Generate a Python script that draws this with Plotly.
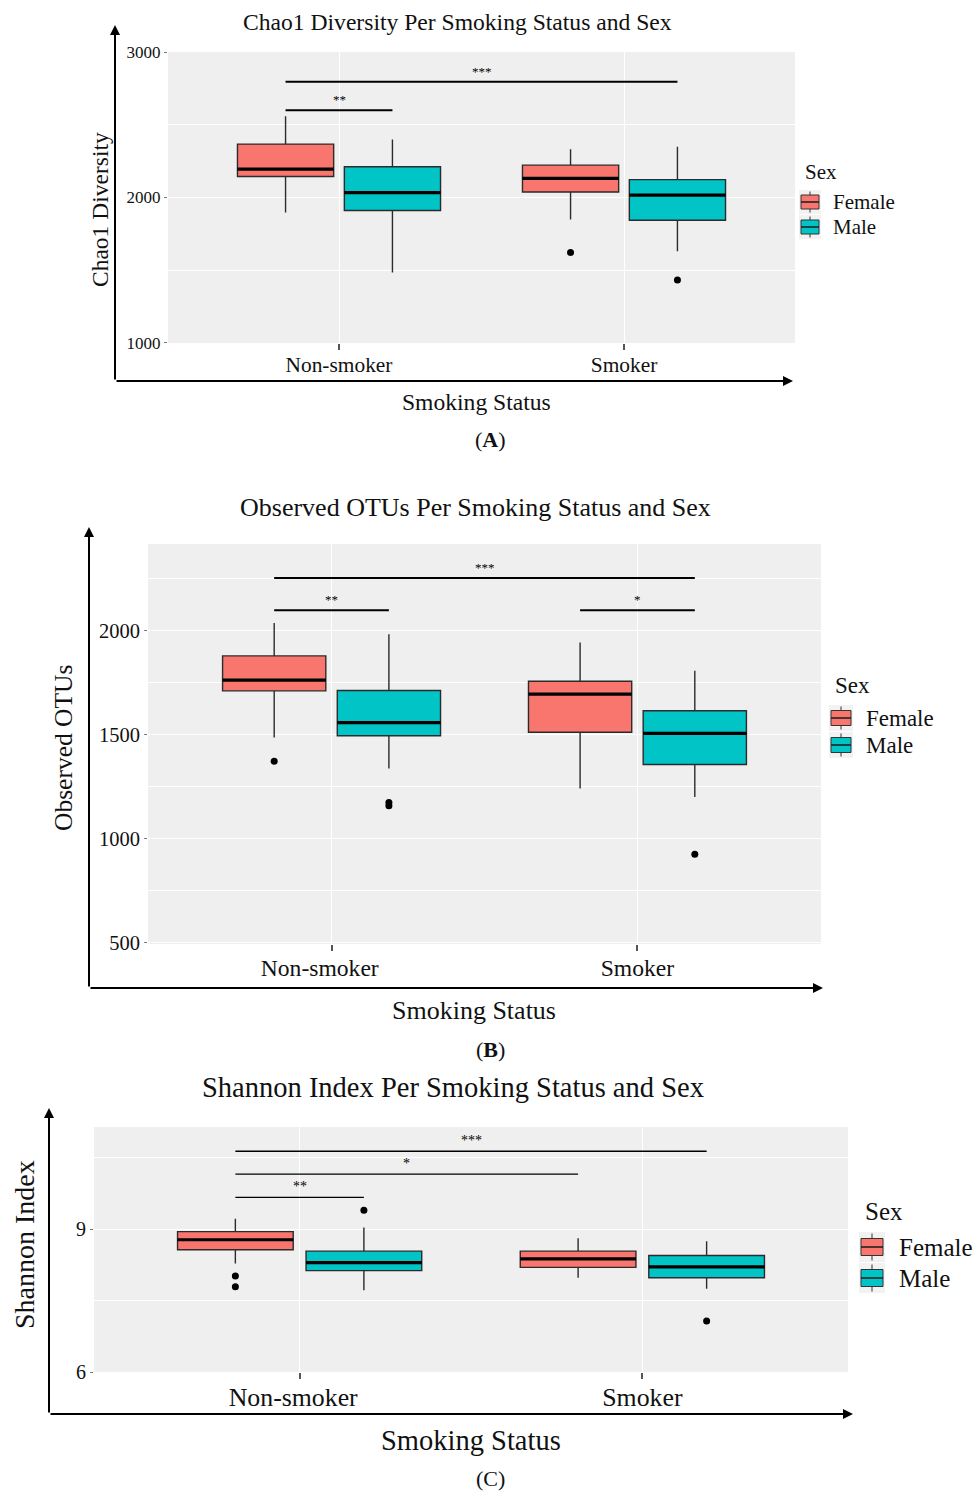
import plotly.graph_objects as go

W, H = 976, 1493
SERIF = "Liberation Serif, Times New Roman, serif"
INK = "#111111"

GROUPS = ["Non-smoker", "Smoker"]
SEXES = ["Female", "Male"]
FILL = {"Female": "#F8766D", "Male": "#00C4C6"}
OFFSET = {"Female": -0.1875, "Male": 0.1875}
BOX_W = 0.3375

# ---- Chao1 diversity: box statistics per sex, ordered [Non-smoker, Smoker]
chao1_lower = {"Female": [1896, 1848], "Male": [1483, 1630]}
chao1_q1 = {"Female": [2145, 2038], "Male": [1910, 1843]}
chao1_median = {"Female": [2196, 2132], "Male": [2033, 2017]}
chao1_q3 = {"Female": [2368, 2223], "Male": [2212, 2123]}
chao1_upper = {"Female": [2560, 2333], "Male": [2400, 2349]}
chao1_out_group = ["Smoker", "Smoker"]
chao1_out_sex = ["Female", "Male"]
chao1_out_value = [1621, 1431]
chao1_sig_from = [("Non-smoker", "Female"), ("Non-smoker", "Female")]
chao1_sig_to = [("Non-smoker", "Male"), ("Smoker", "Male")]
chao1_sig_y = [2601, 2798]
chao1_sig_label = ["**", "***"]

# ---- Observed OTUs
otu_lower = {"Female": [1488, 1243], "Male": [1339, 1202]}
otu_q1 = {"Female": [1712, 1513], "Male": [1496, 1358]}
otu_median = {"Female": [1764, 1696], "Male": [1559, 1508]}
otu_q3 = {"Female": [1880, 1758], "Male": [1714, 1616]}
otu_upper = {"Female": [2038, 1945], "Male": [1984, 1809]}
otu_out_group = ["Non-smoker", "Non-smoker", "Non-smoker", "Smoker"]
otu_out_sex = ["Female", "Male", "Male", "Male"]
otu_out_value = [1374, 1175, 1160, 927]
otu_sig_from = [("Non-smoker", "Female"), ("Smoker", "Female"), ("Non-smoker", "Female")]
otu_sig_to = [("Non-smoker", "Male"), ("Smoker", "Male"), ("Smoker", "Male")]
otu_sig_y = [2100, 2100, 2254]
otu_sig_label = ["**", "*", "***"]

# ---- Shannon index
shannon_lower = {"Female": [8.28, 7.98], "Male": [7.72, 7.75]}
shannon_q1 = {"Female": [8.57, 8.20], "Male": [8.13, 7.98]}
shannon_median = {"Female": [8.78, 8.38], "Male": [8.30, 8.21]}
shannon_q3 = {"Female": [8.95, 8.54], "Male": [8.54, 8.45]}
shannon_upper = {"Female": [9.22, 8.81], "Male": [9.04, 8.75]}
shannon_out_group = ["Non-smoker", "Non-smoker", "Non-smoker", "Smoker"]
shannon_out_sex = ["Female", "Female", "Male", "Male"]
shannon_out_value = [8.02, 7.79, 9.40, 7.07]
shannon_sig_from = [("Non-smoker", "Female"), ("Non-smoker", "Female"), ("Non-smoker", "Female")]
shannon_sig_to = [("Non-smoker", "Male"), ("Smoker", "Female"), ("Smoker", "Male")]
shannon_sig_y = [9.67, 10.16, 10.64]
shannon_sig_label = ["**", "*", "***"]


def fx(px):
    return px / W


def fy(py):
    return 1 - py / H


def pos(group, sex):
    return GROUPS.index(group) + 1 + OFFSET[sex]


PANELS = [
    dict(
        stats=(chao1_lower, chao1_q1, chao1_median, chao1_q3, chao1_upper),
        outliers=(chao1_out_group, chao1_out_sex, chao1_out_value),
        sig=(chao1_sig_from, chao1_sig_to, chao1_sig_y, chao1_sig_label),
        box=(168, 52, 795, 343), yrange=[997, 3003],
        yticks=[1000, 2000, 3000], yminor=[1500, 2500],
        title="Chao1 Diversity Per Smoking Status and Sex", title_xy=(457, 22), title_size=23.6,
        ytitle="Chao1 Diversity", ytitle_xy=(100, 210), ytitle_size=23.5,
        xtitle_xy=(476, 402), xtitle_size=23.6,
        tag="(<b>A</b>)", tag_xy=(491, 439), tag_size=22,
        axis_x=115, axis_top=25, axis_y=381, axis_right=793,
        ytick_size=17, xtick_size=21.4, xtick_pad=0, xtick_standoff=-4,
        star_size=13, sig_w=2,
        key_x=800, key_w=20, key_h=14, key_text_x=831, key_title_xy=(803, 172),
        key_rows=[202, 227], key_size=21,
    ),
    dict(
        stats=(otu_lower, otu_q1, otu_median, otu_q3, otu_upper),
        outliers=(otu_out_group, otu_out_sex, otu_out_value),
        sig=(otu_sig_from, otu_sig_to, otu_sig_y, otu_sig_label),
        box=(148, 544, 821, 944), yrange=[495, 2418],
        yticks=[500, 1000, 1500, 2000], yminor=[750, 1250, 1750, 2250],
        title="Observed OTUs Per Smoking Status and Sex", title_xy=(475, 507), title_size=26,
        ytitle="Observed OTUs", ytitle_xy=(63, 748), ytitle_size=25.5,
        xtitle_xy=(474, 1010), xtitle_size=26,
        tag="(<b>B</b>)", tag_xy=(491, 1049), tag_size=22,
        axis_x=89, axis_top=527, axis_y=988, axis_right=823,
        ytick_size=20.5, xtick_size=23.6, xtick_pad=4, xtick_standoff=-3,
        star_size=13, sig_w=2,
        key_x=830, key_w=22, key_h=15, key_text_x=864, key_title_xy=(833, 685),
        key_rows=[718, 745], key_size=23,
    ),
    dict(
        stats=(shannon_lower, shannon_q1, shannon_median, shannon_q3, shannon_upper),
        outliers=(shannon_out_group, shannon_out_sex, shannon_out_value),
        sig=(shannon_sig_from, shannon_sig_to, shannon_sig_y, shannon_sig_label),
        box=(94, 1127, 848, 1372), yrange=[6.0, 11.15],
        yticks=[6, 9], yminor=[7.5, 10.5],
        title="Shannon Index Per Smoking Status and Sex", title_xy=(453, 1087), title_size=28.5,
        ytitle="Shannon Index", ytitle_xy=(24, 1245), ytitle_size=28,
        xtitle_xy=(471, 1440), xtitle_size=28.5,
        tag="(C)", tag_xy=(491, 1478), tag_size=22,
        axis_x=49, axis_top=1108, axis_y=1414, axis_right=853,
        ytick_size=20, xtick_size=25.8, xtick_pad=2, xtick_standoff=-4,
        star_size=14, sig_w=1.3,
        key_x=860, key_w=24, key_h=17, key_text_x=897, key_title_xy=(863, 1211),
        key_rows=[1247, 1278], key_size=25,
    ),
]

fig = go.Figure()
annotations = []
shapes = []
layout = {}


def text(x, y, s, size, **kw):
    d = dict(x=fx(x), y=fy(y), xref="paper", yref="paper", text=s,
             showarrow=False, xanchor="center", yanchor="middle",
             font=dict(family=SERIF, size=size, color=INK))
    d.update(kw)
    annotations.append(d)


for i, p in enumerate(PANELS, start=1):
    sfx = "" if i == 1 else str(i)
    xref, yref = "x" + sfx, "y" + sfx
    lower, q1, med, q3, upper = p["stats"]

    for sex in SEXES:
        xs = [pos(g, sex) for g in GROUPS]
        fig.add_trace(go.Box(
            x=xs, q1=q1[sex], median=med[sex], q3=q3[sex],
            lowerfence=lower[sex], upperfence=upper[sex],
            orientation="v", width=BOX_W, whiskerwidth=0,
            fillcolor=FILL[sex], line=dict(color="#2b2b2b", width=1.4),
            boxpoints=False, name=sex, showlegend=False,
            xaxis=xref, yaxis=yref, hoverinfo="skip",
        ))
        # heavier median bar, as in ggplot boxplots
        mx, my = [], []
        for x0, m in zip(xs, med[sex]):
            mx += [x0 - BOX_W / 2, x0 + BOX_W / 2, None]
            my += [m, m, None]
        fig.add_trace(go.Scatter(
            x=mx, y=my, mode="lines", line=dict(color="black", width=3.2),
            showlegend=False, xaxis=xref, yaxis=yref, hoverinfo="skip",
        ))

    og, osx, ov = p["outliers"]
    fig.add_trace(go.Scatter(
        x=[pos(g, s) for g, s in zip(og, osx)], y=ov, mode="markers",
        marker=dict(color="black", size=7), showlegend=False,
        xaxis=xref, yaxis=yref, hoverinfo="skip",
    ))

    sf, st, sy, sl = p["sig"]
    for a, b, yv, lab in zip(sf, st, sy, sl):
        xa, xb = pos(*a), pos(*b)
        fig.add_trace(go.Scatter(
            x=[xa, xb], y=[yv, yv], mode="lines",
            line=dict(color="black", width=p["sig_w"]), showlegend=False,
            xaxis=xref, yaxis=yref, hoverinfo="skip",
        ))
        annotations.append(dict(
            x=(xa + xb) / 2, y=yv, xref=xref, yref=yref, text=lab,
            showarrow=False, xanchor="center", yanchor="bottom", yshift=1,
            font=dict(family=SERIF, size=p["star_size"], color="black"),
        ))

    x0, y0, x1, y1 = p["box"]
    pad = "\u00a0" * p["xtick_pad"]
    layout["xaxis" + sfx] = dict(
        domain=[fx(x0), fx(x1)], anchor=yref, range=[0.4, 2.6],
        tickvals=[1, 2], ticktext=[GROUPS[0] + pad, GROUPS[1]],
        ticks="outside", ticklen=6, tickwidth=2, tickcolor="#555555",
        ticklabelstandoff=p["xtick_standoff"],
        showgrid=True, gridcolor="white", gridwidth=1.4,
        zeroline=False, showline=False, automargin=False,
        tickfont=dict(family=SERIF, size=p["xtick_size"], color=INK),
    )
    layout["yaxis" + sfx] = dict(
        domain=[fy(y1), fy(y0)], anchor=xref, range=p["yrange"],
        tickvals=p["yticks"], ticks="outside", ticklen=3, tickwidth=1,
        tickcolor="#777777", showgrid=True, gridcolor="white", gridwidth=1.4,
        minor=dict(tickvals=p["yminor"], showgrid=True, gridcolor="white",
                   gridwidth=0.7, ticks=""),
        zeroline=False, showline=False, automargin=False,
        tickfont=dict(family=SERIF, size=p["ytick_size"], color=INK),
    )

    # titles and panel tag
    text(*p["title_xy"], p["title"], p["title_size"])
    text(*p["ytitle_xy"], p["ytitle"], p["ytitle_size"], textangle=-90)
    text(*p["xtitle_xy"], "Smoking Status", p["xtitle_size"])
    text(*p["tag_xy"], p["tag"], p["tag_size"])

    # legend for Sex, drawn as ggplot-style box keys
    kt_x, kt_y = p["key_title_xy"]
    text(kt_x, kt_y, "Sex", p["key_size"], xanchor="left")
    kx, kw, kh = p["key_x"], p["key_w"], p["key_h"]
    step = p["key_rows"][1] - p["key_rows"][0]
    for sex, ry in zip(SEXES, p["key_rows"]):
        cx = kx + kw / 2
        shapes.append(dict(type="rect", xref="paper", yref="paper",
                           x0=fx(kx - 1), x1=fx(kx + kw + 1),
                           y0=fy(ry + step / 2 - 0.5), y1=fy(ry - step / 2 + 0.5),
                           fillcolor="#F2F2F2", line=dict(width=0), layer="below"))
        shapes.append(dict(type="line", xref="paper", yref="paper",
                           x0=fx(cx), x1=fx(cx),
                           y0=fy(ry + step / 2 - 2), y1=fy(ry - step / 2 + 2),
                           line=dict(color="#333333", width=1)))
        shapes.append(dict(type="rect", xref="paper", yref="paper",
                           x0=fx(kx + 1), x1=fx(kx + kw - 1),
                           y0=fy(ry + kh / 2), y1=fy(ry - kh / 2),
                           fillcolor=FILL[sex], line=dict(color="#333333", width=1)))
        shapes.append(dict(type="line", xref="paper", yref="paper",
                           x0=fx(kx + 1), x1=fx(kx + kw - 1),
                           y0=fy(ry), y1=fy(ry),
                           line=dict(color="#222222", width=1.6)))
        text(p["key_text_x"], ry, sex, p["key_size"], xanchor="left")

    # arrowed axis frame
    ax_x, ax_top, ax_y, ax_right = p["axis_x"], p["axis_top"], p["axis_y"], p["axis_right"]
    for hx, hy in [(ax_x, ax_top), (ax_right, ax_y)]:
        annotations.append(dict(
            x=fx(hx), y=fy(hy), xref="paper", yref="paper", text="",
            showarrow=True, axref="pixel", ayref="pixel",
            ax=ax_x - hx, ay=ax_y - hy, arrowhead=2, arrowsize=1,
            arrowwidth=2, arrowcolor="black", standoff=0,
        ))

fig.update_layout(
    width=W, height=H,
    margin=dict(l=0, r=0, t=0, b=0, pad=0, autoexpand=False),
    paper_bgcolor="white", plot_bgcolor="#EFEFEF",
    annotations=annotations, shapes=shapes, showlegend=False,
    **layout,
)

fig.write_html("out.html")
